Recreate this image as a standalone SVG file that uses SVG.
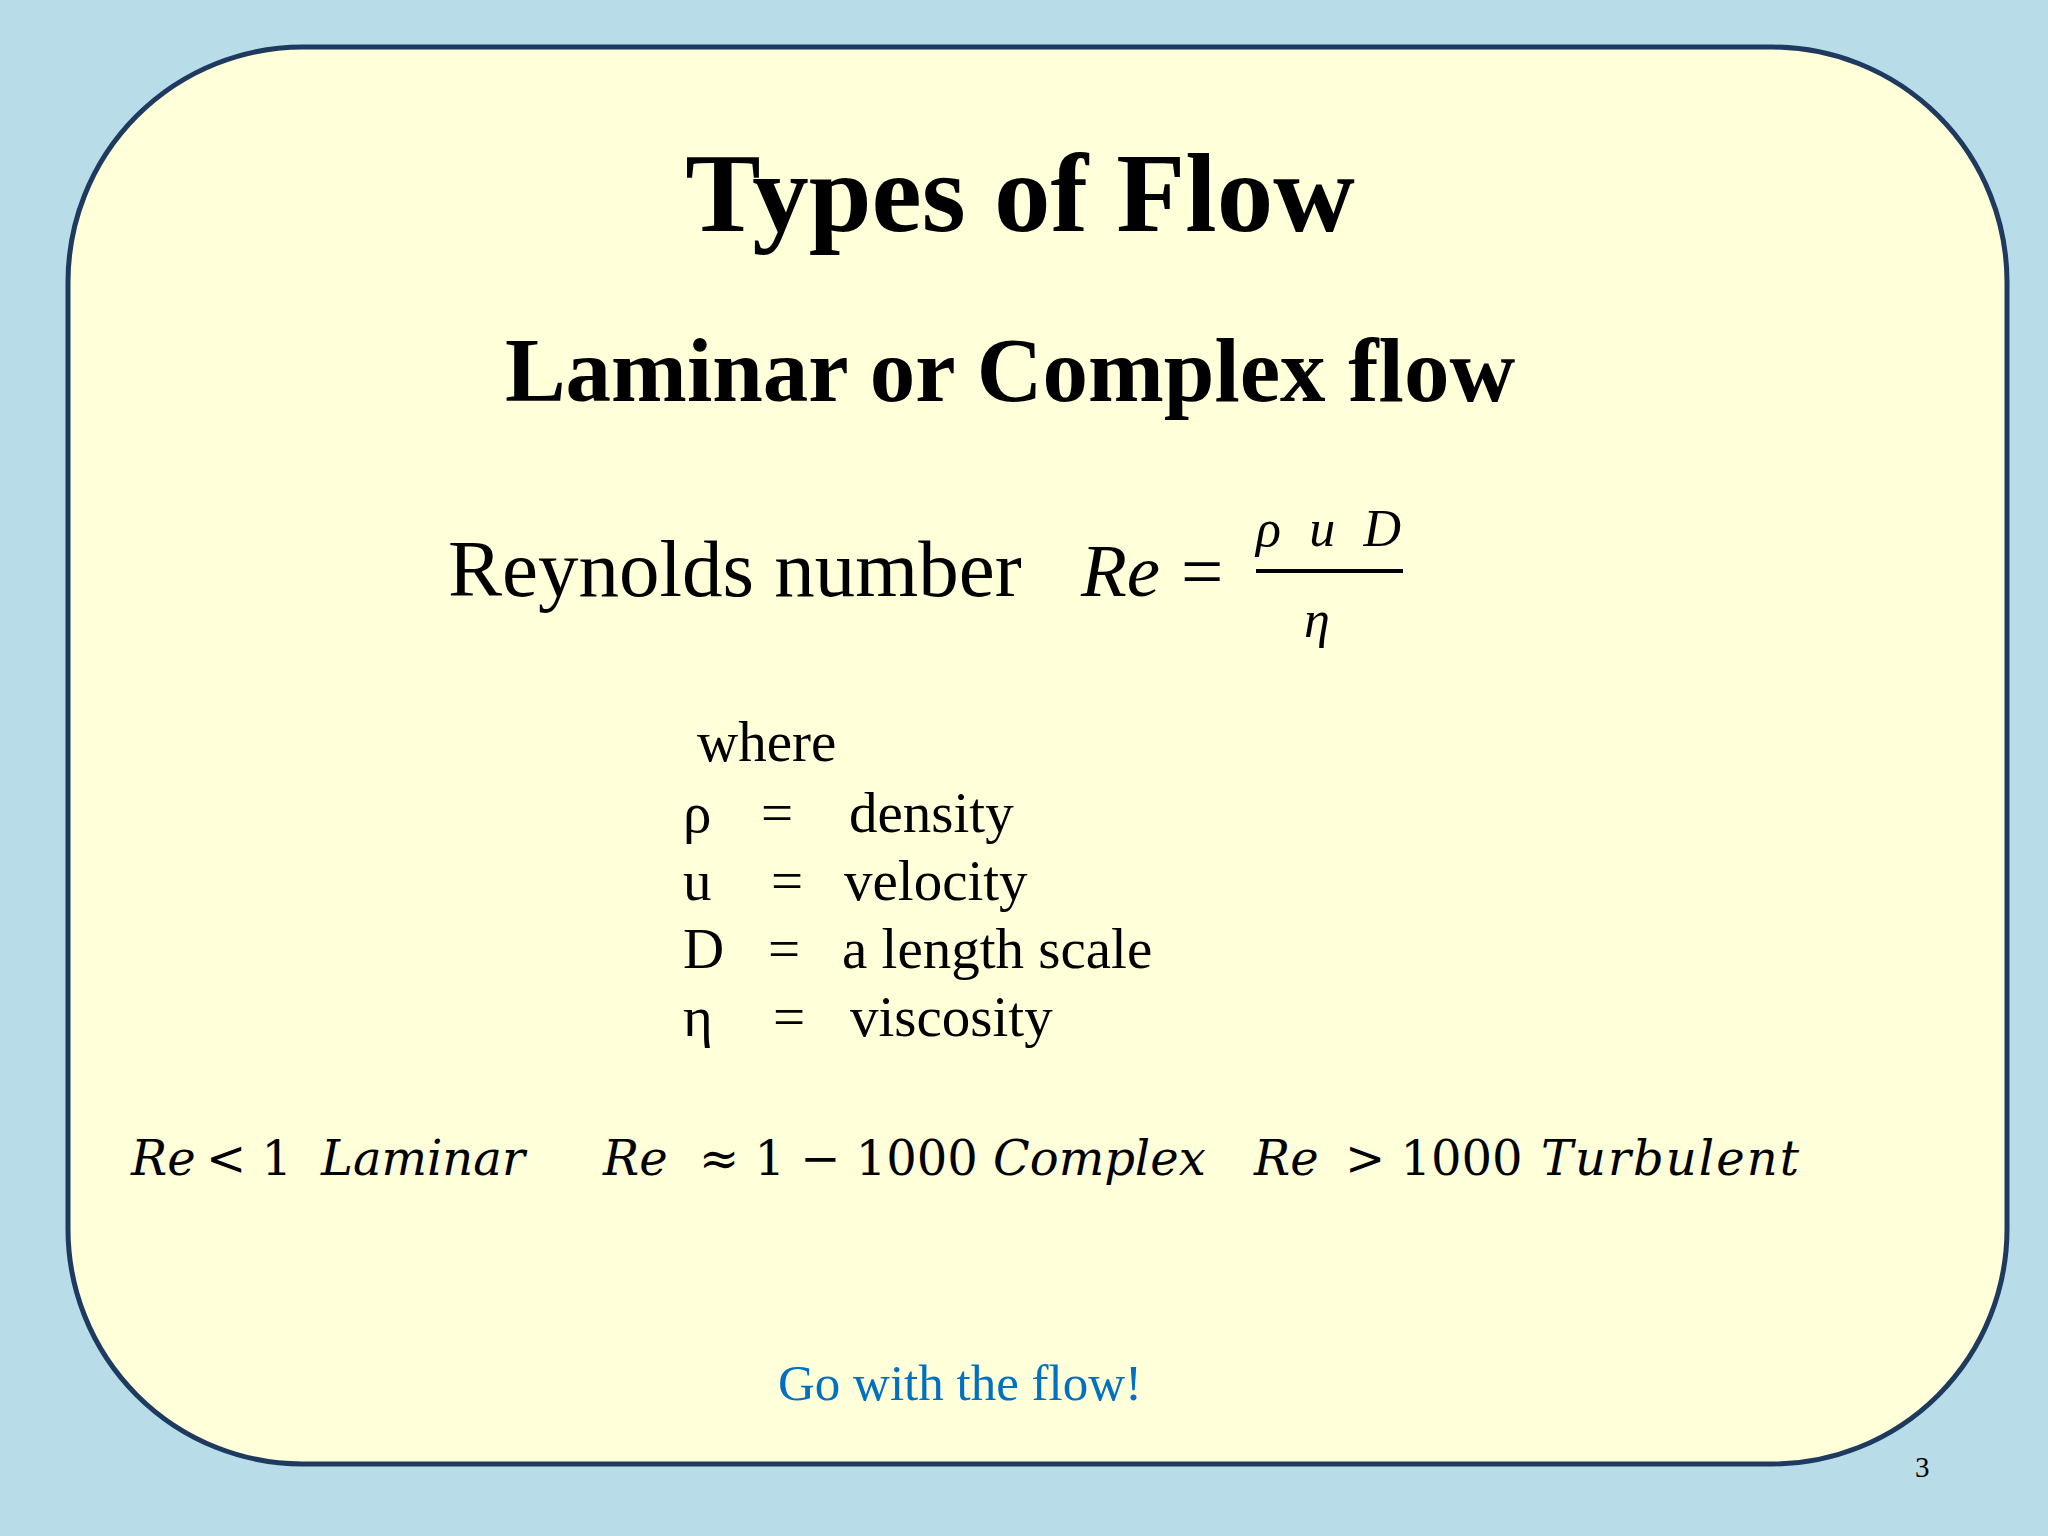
<svg xmlns="http://www.w3.org/2000/svg" width="2048" height="1536" viewBox="0 0 2048 1536">
<style>
.s{font-family:"Liberation Serif",serif;fill:#000}
.m{font-family:"DejaVu Serif","Liberation Serif",serif;fill:#000;font-size:48px}
.i{font-style:italic}
</style>
<rect width="2048" height="1536" fill="#b8dde9"/>
<g id="slide"><rect x="68" y="47" width="1939" height="1417" rx="235" fill="#ffffd9" stroke="#1f3a5f" stroke-width="5"/></g>
<g id="title"><text class="s" x="1020" y="231" font-size="113" font-weight="bold" text-anchor="middle">Types of Flow</text></g>
<g id="subtitle"><text class="s" x="1010" y="401" font-size="91" font-weight="bold" text-anchor="middle">Laminar or Complex flow</text></g>
<g id="formula">
<text class="s" x="448" y="596" font-size="81">Reynolds number</text>
<text class="s i" x="1081" y="596" font-size="75">Re</text>
<text class="s" x="1181" y="596" font-size="75">=</text>
<text class="s i" x="1256" y="546" font-size="52" textLength="145">ρ u D</text>
<line x1="1256" y1="571" x2="1403" y2="571" stroke="#000" stroke-width="4"/>
<text class="s i" x="1317" y="637" font-size="52" text-anchor="middle">η</text>
</g>
<g id="defs-list" class="s" font-size="57">
<text x="697" y="761">where</text>
<text x="683" y="832">ρ</text><text x="761" y="832">=</text><text x="849" y="832">density</text>
<text x="683" y="900">u</text><text x="771" y="900">=</text><text x="844" y="900">velocity</text>
<text x="683" y="968">D</text><text x="768" y="968">=</text><text x="842" y="968">a length scale</text>
<text x="683" y="1036">η</text><text x="773" y="1036">=</text><text x="850" y="1036">viscosity</text>
</g>
<g id="ranges" class="m">
<text class="i" x="131" y="1175">Re</text>
<text x="206" y="1175">&lt; 1</text>
<text class="i" x="321" y="1175">Laminar</text>
<text class="i" x="603" y="1175">Re</text>
<text x="699" y="1175">≈ 1 − 1000</text>
<text class="i" x="993" y="1175">Complex</text>
<text class="i" x="1254" y="1175">Re</text>
<text x="1345" y="1175">&gt; 1000</text>
<text class="i" x="1541" y="1175" textLength="258">Turbulent</text>
</g>
<g id="footer">
<text class="s" x="778" y="1400" font-size="51" style="fill:#0070c0">Go with the flow!</text>
<text class="s" x="1915" y="1477" font-size="29">3</text>
</g>
</svg>
